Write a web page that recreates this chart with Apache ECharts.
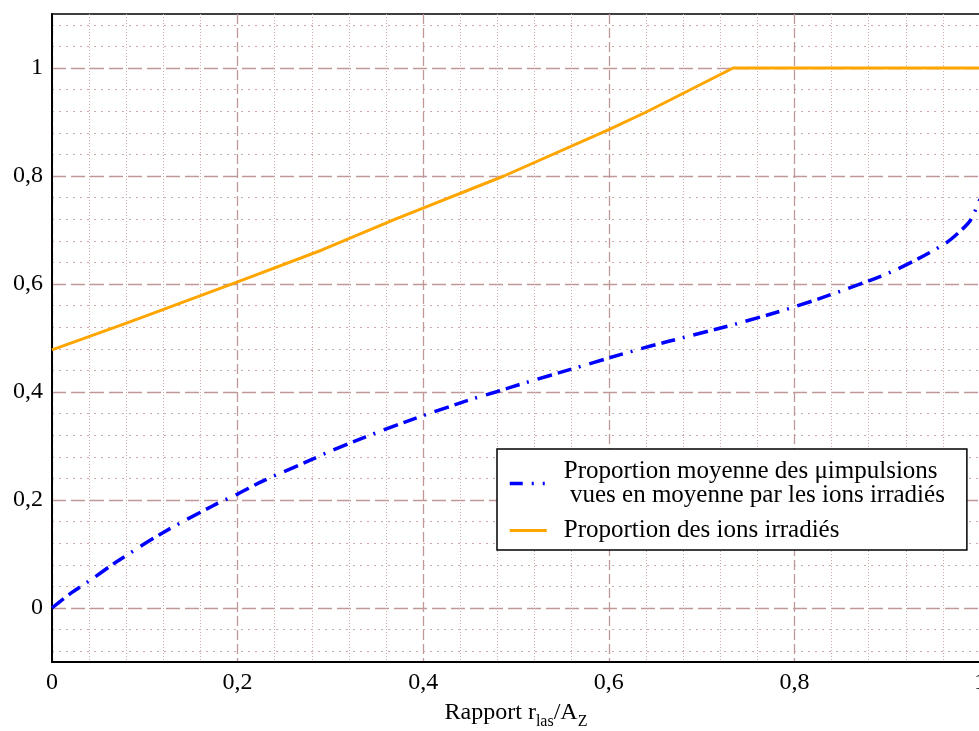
<!DOCTYPE html>
<html>
<head>
<meta charset="utf-8">
<script src="https://cdn.jsdelivr.net/npm/echarts@6/dist/echarts.min.js"></script>
<style>
html,body{margin:0;padding:0;background:#fff;}
#chart{width:979px;height:731px;}
</style>
</head>
<body>
<div id="chart"></div>
<script>
// ---- data ----
var blueX = [0, 0.02, 0.04, 0.07, 0.12, 0.173, 0.2, 0.227, 0.282, 0.30, 0.338, 0.393, 0.451, 0.48, 0.508, 0.565, 0.60, 0.647, 0.68, 0.738, 0.796, 0.851, 0.909, 0.9615, 0.98, 0.99, 1.0];
var blueY = [0, 0.027, 0.050, 0.086, 0.140, 0.189, 0.211, 0.235, 0.2765, 0.2906, 0.317, 0.352, 0.386, 0.401, 0.416, 0.445, 0.463, 0.486, 0.5006, 0.5265, 0.5555, 0.5875, 0.626, 0.674, 0.700, 0.719, 0.757];
var orangeX = [0, 0.081, 0.2, 0.291, 0.37, 0.487, 0.6, 0.641, 0.734, 1.0];
var orangeY = [0.478, 0.528, 0.604, 0.663, 0.720, 0.800, 0.886, 0.919, 1.0, 1.0];
var yMajorTicks = [0, 0.2, 0.4, 0.6, 0.8, 1];
var yMinorTicks = [-0.08, -0.04, 0.04, 0.08, 0.12, 0.16, 0.24, 0.28, 0.32, 0.36, 0.44, 0.48, 0.52, 0.56, 0.64, 0.68, 0.72, 0.76, 0.84, 0.88, 0.92, 0.96, 1.04, 1.08];
var seriesNames = ['Proportion moyenne des μimpulsions', 'Proportion des ions irradiés'];
var legendLabels = ['Proportion moyenne des μimpulsions\n\u00a0vues en moyenne par les ions irradiés', 'Proportion des ions irradiés'];

function zip(xs, ys){ return xs.map(function(x,i){ return [x, ys[i]]; }); }
function fmt(v){ return String(Math.round(v*100)/100).replace('.', ','); }

var FONT = 'Liberation Serif';
var majorColor = 'rgb(192,152,152)';
var minorColor = 'rgb(205,170,170)';

var chart = echarts.init(document.getElementById('chart'), null, {renderer:'canvas'});
chart.setOption({
  animation: false,
  backgroundColor: '#fff',
  grid: {left: 52, right: -1, top: 14, bottom: 69, show: true, borderColor: '#000', borderWidth: 1.5, outerBoundsMode: 'none', containLabel: false},
  xAxis: {
    type: 'value', min: 0, max: 1, interval: 0.2,
    name: 'Rapport r{sub|las}/A{sub|Z}', nameLocation: 'middle', nameGap: 34,
    nameTextStyle: {fontFamily: FONT, fontSize: 24, color: '#000',
      rich: {sub: {fontFamily: FONT, fontSize: 16, color: '#000', padding: [18,0,0,0]}}},
    axisLine: {show: true, onZero: false, lineStyle: {color: '#000', width: 2}},
    axisTick: {show: false},
    axisLabel: {formatter: fmt, fontFamily: FONT, fontSize: 24, color: '#000', margin: 9, showMaxLabel: true, showMinLabel: true},
    splitLine: {show: true, lineStyle: {color: majorColor, width: 1.3, type: [10,4]}},
    minorTick: {show: false, splitNumber: 5},
    minorSplitLine: {show: true, lineStyle: {color: minorColor, width: 1, type: [1,2]}}
  },
  yAxis: [{
    type: 'value', min: -0.1, max: 1.1,
    axisLine: {show: true, onZero: false, lineStyle: {color: '#000', width: 2}},
    axisTick: {show: false, customValues: yMajorTicks},
    axisLabel: {customValues: yMajorTicks, formatter: fmt, fontFamily: FONT, fontSize: 24, color: '#000', margin: 9},
    splitLine: {show: true, lineStyle: {color: majorColor, width: 1.3, type: [14,5]}}
  }, {
    type: 'value', min: -0.1, max: 1.1, position: 'left',
    axisLine: {show: false},
    axisTick: {show: false, customValues: yMinorTicks},
    axisLabel: {show: false, customValues: yMinorTicks},
    splitLine: {show: true, lineStyle: {color: minorColor, width: 1.2, type: [2,5]}}
  }],
  legend: {
    orient: 'vertical', left: 497, top: 449,
    backgroundColor: '#fff', borderColor: '#000', borderWidth: 1.5,
    padding: [10, 22, 7, 11], itemGap: 10, itemWidth: 37, itemHeight: 14,
    itemStyle: {opacity: 0},
    textStyle: {fontFamily: FONT, fontSize: 25, color: '#000', lineHeight: 24, padding: [0,0,0,12]},
    formatter: function(name){ return legendLabels[seriesNames.indexOf(name)]; },
    data: [
      {name: seriesNames[0], itemStyle: {opacity: 0}, lineStyle: {type: [13,9,2,9,2,9], width: 3.5}},
      {name: seriesNames[1], itemStyle: {opacity: 0}, lineStyle: {width: 3}}
    ]
  },
  series: [{
    name: seriesNames[0], type: 'line', data: zip(blueX, blueY), showSymbol: false, symbol: 'none', smooth: 0.3,
    yAxisIndex: 0, color: '#0000ff',
    lineStyle: {color: '#0000ff', width: 3.5, type: [15,6,14,8,2,9]}, z: 3
  }, {
    name: seriesNames[1], type: 'line', data: zip(orangeX, orangeY), showSymbol: false, symbol: 'none',
    yAxisIndex: 0, color: '#ffa500',
    lineStyle: {color: '#ffa500', width: 3}, z: 4
  }]
});
</script>
</body>
</html>
